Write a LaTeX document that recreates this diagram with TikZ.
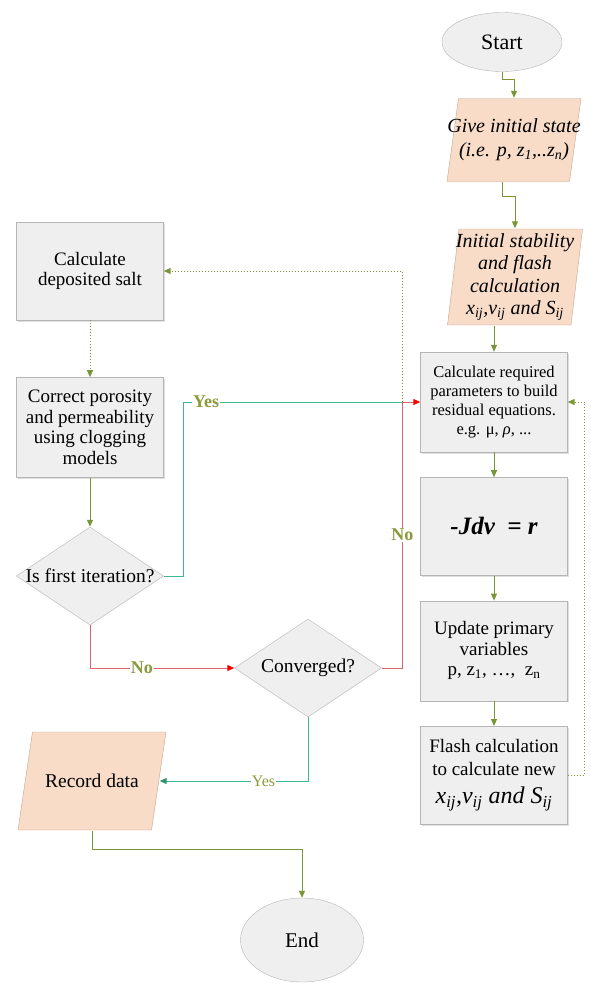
\documentclass[tikz,border=0pt]{standalone}
\usepackage{fontspec}
\setmainfont{Liberation Serif}
\usetikzlibrary{positioning, arrows.meta, shapes.geometric, calc, shadows}
\usepackage{xcolor}

\definecolor{boxgray}{HTML}{EFEFEF}
\definecolor{boxline}{HTML}{B5B5B5}
\definecolor{peach}{HTML}{F8DCC8}
\definecolor{peachline}{HTML}{C8A48A}
\definecolor{olivearr}{HTML}{7A9438}
\definecolor{yesgreen}{HTML}{3DB88F}
\definecolor{nored}{HTML}{D9646E}
\definecolor{labolive}{HTML}{8C9A3C}

% text line that does not widen its node
\newcommand{\zw}[1]{\makebox[0pt]{#1}}

\begin{document}
\begin{tikzpicture}[x=1pt, y=-1pt,
      box/.style={draw=boxline, fill=boxgray, minimum width=147pt, minimum height=98pt,
                  align=center, font=\fontsize{19}{20.5}\selectfont,
                  drop shadow={shadow xshift=1.5pt, shadow yshift=-1.5pt, opacity=0.25}},
      io/.style={minimum width=135pt, align=center, inner sep=0pt,
                 font=\itshape\fontsize{20}{24}\selectfont,
                 path picture={
                   \draw[peachline, fill=peach]
                     ([xshift=0.5pt, yshift=0.5pt]path picture bounding box.south west)
                     -- ([xshift=-#1, yshift=0.5pt]path picture bounding box.south east)
                     -- ([xshift=-0.5pt, yshift=-0.5pt]path picture bounding box.north east)
                     -- ([xshift=#1, yshift=-0.5pt]path picture bounding box.north west)
                     -- cycle;}},
      io/.default=12pt,
      term/.style={ellipse, draw=boxline, fill=boxgray, font=\fontsize{22}{24}\selectfont},
      decision/.style={diamond, draw=boxline, fill=boxgray, minimum width=147pt,
                       minimum height=98pt, inner sep=0pt, font=\fontsize{19.5}{22}\selectfont},
      arr/.style={-{Triangle[length=7pt, width=6pt]}, olivearr, line width=1pt},
      dots/.style={arr, dotted},
      yesline/.style={yesgreen, line width=1pt},
      noline/.style={nored, line width=1pt},
      lab/.style={fill=white, text=labolive, inner sep=1pt,
                  font=\bfseries\fontsize{18}{20}\selectfont}]
    \useasboundingbox (0,0) rectangle (590,985);

    % right column
    \node[term, minimum width=120pt, minimum height=59pt] (start) at (502,42) {Start};
    \node[io, minimum height=84pt] (give) at (514,140)
         {\zw{Give initial state}\\\zw{(i.e. p, z\textsubscript{1},..z\textsubscript{n})}};
    \node[io, minimum height=97pt, minimum width=136pt, font=\itshape\fontsize{20}{22.5}\selectfont] (init) at (515,277)
         {\zw{Initial stability}\\\zw{and flash}\\\zw{calculation}\\\zw{x\textsubscript{ij},v\textsubscript{ij} and S\textsubscript{ij}}};
    \node[box, font=\fontsize{16.5}{19}\selectfont, minimum height=100pt] (calcreq) at (494,402)
         {Calculate required\\parameters to build\\residual equations.\\e.g. μ, \textit{ρ}, ...};
    \node[box, below=25pt of calcreq, font=\bfseries\itshape\fontsize{25}{28}\selectfont] (jdv)
         {-Jdv\ \ = r};
    \node[box, below=25pt of jdv, minimum height=100pt] (update)
         {Update primary\\variables\\p, z\textsubscript{1}, \ldots,\ \ z\textsubscript{n}};
    \node[box, below=25pt of update, font=\fontsize{19}{23}\selectfont] (flash)
         {Flash calculation\\to calculate new\\[5pt]{\itshape\fontsize{24}{27}\selectfont x\textsubscript{ij},v\textsubscript{ij} and S\textsubscript{ij}}};

    % left column
    \node[box] (salt) at (90,271) {Calculate\\deposited salt};
    \node[box, below=57pt of salt, minimum height=100pt] (correct)
         {Correct porosity\\and permeability\\using clogging\\models};
    \node[decision] (first) at (90,576) {\zw{Is first iteration?}};
    \node[decision] (conv) at (308,668) {\zw{Converged?}};
    \node[io=15pt, font=\fontsize{19.5}{22}\selectfont, minimum height=99pt, minimum width=149pt] (record) at (92,781)
         {\zw{Record data}};
    \node[term, minimum width=123pt, minimum height=84pt, font=\fontsize{21}{24}\selectfont] (end) at (302,940) {End};

    \coordinate (jn) at ($(calcreq.west)+(-18,0)$);

    % connectors
    \draw[arr] (start.south) -- ++(0,8) -| (give.north);
    \draw[arr] ([xshift=-12pt]give.south) -- ++(0,14) -| (init.north);
    \draw[arr] (init.south -| calcreq) -- (calcreq);
    \draw[arr] (calcreq) -- (jdv);
    \draw[arr] (jdv) -- (update);
    \draw[arr] (update) -- (flash);
    \draw[dots] (flash.east) -- ++(17,0) |- (calcreq.east);
    \draw[dots] (salt) -- (correct);
    \draw[arr] (correct) -- (first);
    \draw[yesline] (first.east) -- ++(20,0) |- (jn);
    \node[lab] (yes1) at (206,402) {Yes};
    \draw[noline] (conv.east) -| node[lab, pos=0.75] (no2) {No} (jn);
    \draw[noline, -{Triangle[length=7pt, width=6pt, color=red]}] (jn) -- (calcreq.west);
    \draw[dots] (jn) |- (salt.east);
    \draw[noline, -{Triangle[length=7pt, width=6pt, color=red]}] (first.south) |- node[lab, pos=0.68] (no1) {No} (conv.west);
    \draw[yesline, -{Triangle[length=7pt, width=6pt, color=yesgreen!80!black]}] (conv.south) |- node[lab, pos=0.65, font=\fontsize{16}{18}\selectfont] (yes2) {Yes} ([xshift=-7pt]record.east);
    \draw[arr] (record.south) -- ++(0,19) -| (end.north);
\end{tikzpicture}
\end{document}
